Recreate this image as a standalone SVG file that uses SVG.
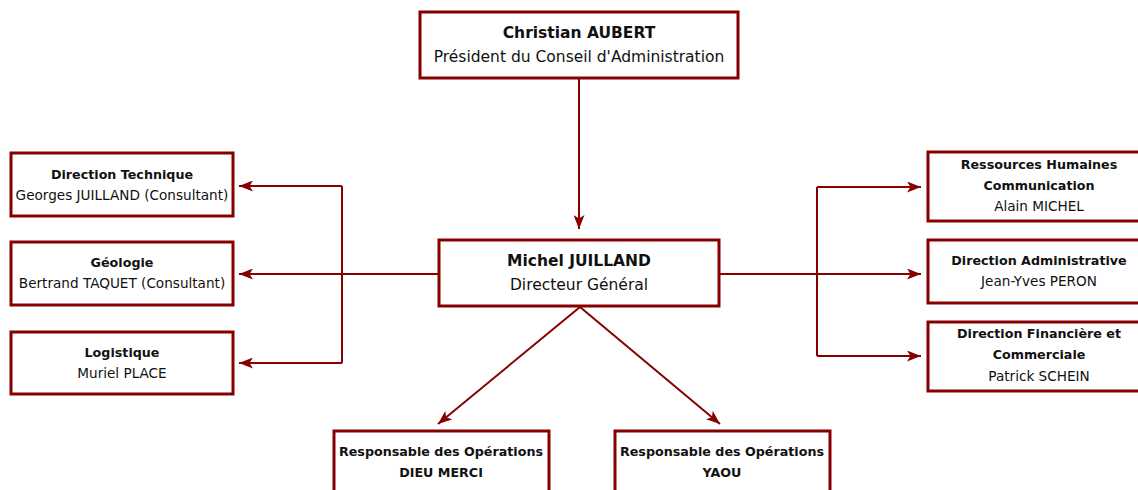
<svg xmlns="http://www.w3.org/2000/svg" width="1138" height="490" viewBox="0 0 1138 490">
<style>
.box{fill:#fff;stroke:#860000;stroke-width:3}
.ln{fill:none;stroke:#860000;stroke-width:2}
text{font-family:"DejaVu Sans",Verdana,sans-serif;fill:#111;text-anchor:middle}
.t1{font-size:15.5px;font-weight:bold}
.t2{font-size:15.5px}
.s1{font-size:12.7px;font-weight:bold}
.s2{font-size:13.6px}
</style>
<defs>
<marker id="ah" viewBox="0 0 14 11" refX="14" refY="5.5" markerWidth="14" markerHeight="11" markerUnits="userSpaceOnUse" orient="auto">
<path d="M0,0 L14,5.5 L0,11 L3.5,5.5 z" fill="#860000"/>
</marker>
</defs>
<g id="connectors">
<line class="ln" x1="579" y1="78" x2="579" y2="229" marker-end="url(#ah)"/>
<line class="ln" x1="439" y1="274" x2="239" y2="274" marker-end="url(#ah)"/>
<polyline class="ln" points="342,186 342,363"/>
<line class="ln" x1="342" y1="186" x2="239" y2="186" marker-end="url(#ah)"/>
<line class="ln" x1="342" y1="363" x2="239" y2="363" marker-end="url(#ah)"/>
<line class="ln" x1="719" y1="274" x2="921" y2="274" marker-end="url(#ah)"/>
<polyline class="ln" points="817,187 817,356"/>
<line class="ln" x1="817" y1="187" x2="921" y2="187" marker-end="url(#ah)"/>
<line class="ln" x1="817" y1="356" x2="921" y2="356" marker-end="url(#ah)"/>
<line class="ln" x1="580" y1="307" x2="438" y2="424" marker-end="url(#ah)"/>
<line class="ln" x1="580" y1="307" x2="720" y2="424" marker-end="url(#ah)"/>
</g>
<g id="president">
<rect class="box" x="420" y="12" width="318" height="66"/>
<text class="t1" x="579" y="38">Christian AUBERT</text>
<text class="t2" x="579" y="62">Président du Conseil d'Administration</text>
</g>
<g id="dg">
<rect class="box" x="439" y="240" width="280" height="66"/>
<text class="t1" x="579" y="266">Michel JUILLAND</text>
<text class="t2" x="579" y="290">Directeur Général</text>
</g>
<g id="technique">
<rect class="box" x="11" y="153" width="222" height="63"/>
<text class="s1" x="122" y="179">Direction Technique</text>
<text class="s2" x="122" y="200">Georges JUILLAND (Consultant)</text>
</g>
<g id="geologie">
<rect class="box" x="11" y="242" width="222" height="63"/>
<text class="s1" x="122" y="267">Géologie</text>
<text class="s2" x="122" y="288">Bertrand TAQUET (Consultant)</text>
</g>
<g id="logistique">
<rect class="box" x="11" y="332" width="222" height="62"/>
<text class="s1" x="122" y="357">Logistique</text>
<text class="s2" x="122" y="378">Muriel PLACE</text>
</g>
<g id="rh">
<rect class="box" x="928" y="152" width="215" height="69"/>
<text class="s1" x="1039" y="169">Ressources Humaines</text>
<text class="s1" x="1039" y="190">Communication</text>
<text class="s2" x="1039" y="211">Alain MICHEL</text>
</g>
<g id="admin">
<rect class="box" x="928" y="240" width="215" height="63"/>
<text class="s1" x="1039" y="265">Direction Administrative</text>
<text class="s2" x="1039" y="286">Jean-Yves PERON</text>
</g>
<g id="finance">
<rect class="box" x="928" y="322" width="215" height="69"/>
<text class="s1" x="1039" y="338">Direction Financière et</text>
<text class="s1" x="1039" y="359">Commerciale</text>
<text class="s2" x="1039" y="381">Patrick SCHEIN</text>
</g>
<g id="ops1">
<rect class="box" x="334" y="431" width="215" height="70"/>
<text class="s1" x="441" y="456">Responsable des Opérations</text>
<text class="s1" x="441" y="477">DIEU MERCI</text>
</g>
<g id="ops2">
<rect class="box" x="615" y="431" width="215" height="70"/>
<text class="s1" x="722" y="456">Responsable des Opérations</text>
<text class="s1" x="722" y="477">YAOU</text>
</g>
</svg>
